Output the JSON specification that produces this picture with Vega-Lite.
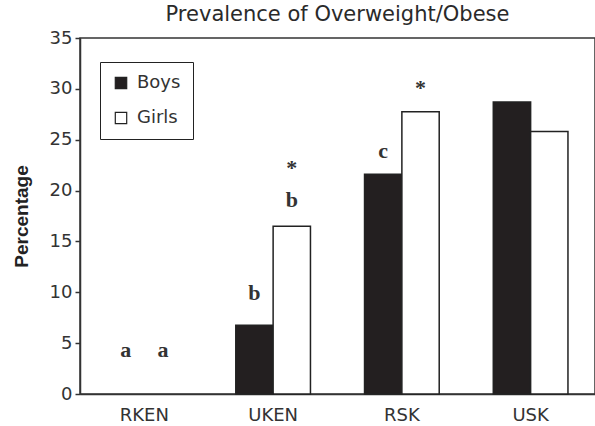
{
  "$schema": "https://vega.github.io/schema/vega-lite/v6.json",
  "autosize": "none",
  "width": 515,
  "height": 356,
  "padding": {"left": 80, "top": 38, "right": 0, "bottom": 32},
  "background": "white",
  "config": {
    "view": {"stroke": "#333", "strokeWidth": 1.5},
    "font": "DejaVu Sans"
  },
  "title": {
    "text": "Prevalence of Overweight/Obese",
    "fontSize": 21,
    "fontWeight": "normal",
    "color": "#2a2a2a",
    "font": "DejaVu Sans",
    "baseline": "bottom",
    "offset": 12,
    "dy": 29,
    "anchor": "middle"
  },
  "datasets": {
    "bars": [
      {"area": "RKEN", "sex": "Boys", "pct": 0},
      {"area": "RKEN", "sex": "Girls", "pct": 0},
      {"area": "UKEN", "sex": "Boys", "pct": 6.75},
      {"area": "UKEN", "sex": "Girls", "pct": 16.5},
      {"area": "RSK", "sex": "Boys", "pct": 21.6},
      {"area": "RSK", "sex": "Girls", "pct": 27.75},
      {"area": "USK", "sex": "Boys", "pct": 28.7},
      {"area": "USK", "sex": "Girls", "pct": 25.8}
    ],
    "notes": [
      {"area": "RKEN", "sex": "Boys", "y": 4.3, "label": "a"},
      {"area": "RKEN", "sex": "Girls", "y": 4.3, "label": "a"},
      {"area": "UKEN", "sex": "Boys", "y": 9.9, "label": "b"},
      {"area": "UKEN", "sex": "Girls", "y": 19.1, "label": "b"},
      {"area": "UKEN", "sex": "Girls", "y": 22.2, "label": "*"},
      {"area": "RSK", "sex": "Boys", "y": 23.9, "label": "c"},
      {"area": "RSK", "sex": "Girls", "y": 30.1, "label": "*"}
    ]
  },
  "encoding": {
    "x": {
      "field": "area",
      "type": "nominal",
      "sort": ["RKEN", "UKEN", "RSK", "USK"],
      "scale": {"paddingInner": 0.42, "paddingOuter": 0.21},
      "axis": {
        "title": null,
        "labelAngle": 0,
        "labelFontSize": 18,
        "labelColor": "#333",
        "labelFont": "DejaVu Sans",
        "ticks": false,
        "labelPadding": 12,
        "domainColor": "#333",
        "domainWidth": 1.5
      }
    },
    "xOffset": {"field": "sex", "type": "nominal", "sort": ["Boys", "Girls"], "scale": {"paddingInner": 0}}
  },
  "layer": [
    {
      "data": {"name": "bars"},
      "mark": {"type": "bar", "stroke": "#222", "strokeWidth": 1.5},
      "encoding": {
        "y": {
          "field": "pct",
          "type": "quantitative",
          "scale": {"domain": [0, 35], "nice": false},
          "axis": {
            "title": "Percentage",
            "titleFontSize": 19,
            "titleFontWeight": "bold",
            "titleColor": "#222",
            "titlePadding": 18,
            "titleFont": "Liberation Sans",
            "values": [0, 5, 10, 15, 20, 25, 30, 35],
            "grid": false,
            "labelFontSize": 18,
            "labelColor": "#333",
            "labelFont": "DejaVu Sans",
            "tickSize": 5,
            "tickColor": "#333",
            "tickWidth": 1.5,
            "domainColor": "#333",
            "domainWidth": 1.5,
            "labelPadding": 3
          }
        },
        "fill": {
          "field": "sex",
          "type": "nominal",
          "scale": {"domain": ["Boys", "Girls"], "range": ["#231f20", "#ffffff"]},
          "legend": {
            "title": null,
            "orient": "none",
            "legendX": 20,
            "legendY": 24,
            "strokeColor": "#222",
            "padding": 12,
            "symbolType": "square",
            "symbolSize": 130,
            "symbolStrokeColor": "#222",
            "symbolStrokeWidth": 1.2,
            "labelFontSize": 18,
            "labelColor": "#333",
            "labelFont": "DejaVu Sans",
            "rowPadding": 17,
            "labelOffset": 7
          }
        },
        "strokeOpacity": {
          "condition": {"test": "datum.pct > 0", "value": 1},
          "value": 0
        }
      }
    },
    {
      "data": {"name": "notes"},
      "mark": {"type": "text", "font": "Liberation Serif", "fontWeight": "bold", "fontSize": 22, "color": "#333", "baseline": "middle"},
      "encoding": {
        "y": {"field": "y", "type": "quantitative"},
        "text": {"field": "label"}
      }
    }
  ]
}
